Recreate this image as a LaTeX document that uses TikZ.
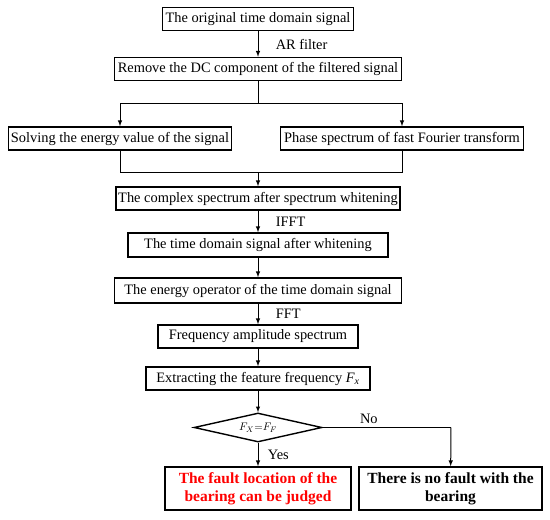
\documentclass[tikz,border=0pt]{standalone}
\usepackage{fontspec}
\setmainfont{Liberation Serif}
\usetikzlibrary{shapes.geometric,arrows}

\begin{document}
\begin{tikzpicture}[x=1pt, y=-1pt, >=latex,
	box/.style={draw, line width=1.5pt, inner sep=2pt, minimum height=23pt, font=\fontsize{14.4}{17}\selectfont},
	endbox/.style={box, align=center, minimum height=43pt, font=\fontsize{15.5}{18.5}\selectfont\bfseries},
	decide/.style={draw, diamond, line width=1.4pt, inner sep=0pt, aspect=4.4, minimum width=128pt, minimum height=29pt},
	arr/.style={->, line width=1pt},
	lbl/.style={font=\fontsize{14.4}{17}\selectfont}]
\def \midx {258}
\def \leftx {120}
\def \rightx {402}
\def \nox {451}
\useasboundingbox (0,0) rectangle (550,520);

%main column
\node[box, minimum width=191pt] (orig) at (\midx,19) {The original time domain signal};
\node[box, minimum width=287pt] (dc) at (\midx,69) {Remove the DC component of the filtered signal};
\node[box, minimum width=223pt] (energy) at (\leftx,138.5) {Solving the energy value of the signal};
\node[box, minimum width=243pt] (phase) at (\rightx,138.5) {Phase spectrum of fast Fourier transform};
\node[box, minimum width=284pt] (cplx) at (\midx,198.5) {The complex spectrum after spectrum whitening};
\node[box, minimum width=260pt, minimum height=24pt] (white) at (\midx,245) {The time domain signal after whitening};
\node[box, minimum width=287pt, minimum height=25pt] (teo) at (\midx,290.5) {The energy operator of the time domain signal};
\node[box, minimum width=200pt] (amp) at (\midx,336.5) {Frequency amplitude spectrum};
\node[box, minimum width=224pt] (feat) at (\midx,378.5) {Extracting the feature frequency \textit{F}\textsubscript{\textit{x}}};
\node[decide] (cmp) at (\midx,427.5) {\fontsize{11}{13}\selectfont $F_X{=}F_F$};

%results
\node[endbox, text=red, minimum width=186pt] (fault) at (\midx,488.5) {The fault location of the\\bearing can be judged};
\node[endbox, minimum width=183pt] (nofault) at (450.5,488.5) {There is no fault with the\\bearing};

%split and merge
\coordinate (split) at (\midx,103);
\coordinate (merge) at (\midx,172);
\coordinate (nocorner) at (\nox,427.5);

\draw[arr] (orig) -- (dc) node[lbl, midway, right=14pt] {AR filter};
\draw[line width=1pt] (dc) -- (split);
\draw[arr] (split) -| (energy);
\draw[arr] (split) -| (phase);
\draw[line width=1pt] (energy) |- (merge);
\draw[line width=1pt] (phase) |- (merge);
\draw[arr] (merge) -- (cplx);
\draw[arr] (cplx) -- (white) node[lbl, midway, right=14pt] {IFFT};
\draw[arr] (white) -- (teo);
\draw[arr] (teo) -- (amp) node[lbl, midway, right=14pt] {FFT};
\draw[arr] (amp) -- (feat);
\draw[arr] (feat) -- (cmp);
\draw[arr] (cmp) -- (fault) node[lbl, midway, right=6pt] {Yes};
\draw[line width=1pt] (cmp.east) -- (nocorner) node[lbl, pos=0.36, above] {No};
\draw[arr] (nocorner) -- (nofault);

\end{tikzpicture}
\end{document}
